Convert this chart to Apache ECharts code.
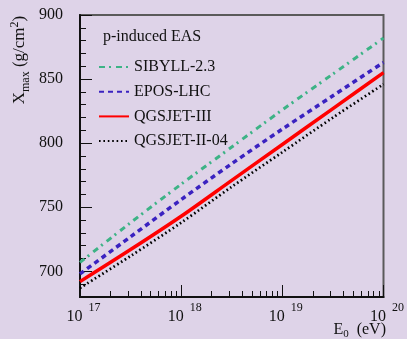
<!DOCTYPE html>
<html>
<head>
<meta charset="utf-8">
<script src="https://cdn.jsdelivr.net/npm/echarts@6/dist/echarts.min.js"></script>
<style>
html,body{margin:0;padding:0;background:#ded3e8;}
#chart{width:407px;height:339px;}
</style>
</head>
<body>
<div id="chart"></div>
<script>
// Data (energies in eV, Xmax in g/cm^2)
const energies = [1e17, 3.162e17, 1e18, 3.162e18, 1e19, 3.162e19, 1e20];
const sibyll = [707, 738, 768, 797, 826, 854, 882];
const epos = [698, 727, 756, 784, 811, 837, 863];
const qgsjet3 = [692, 717, 743, 771, 799, 827, 855];
const qgsjet2 = [687, 712, 738, 766, 793, 820, 846];
const seriesNames = ['SIBYLL-2.3', 'EPOS-LHC', 'QGSJET-III', 'QGSJET-II-04'];
const xMajorTicks = [1e17, 1e18, 1e19, 1e20];
const xMinorTicks = [];
[1e17, 1e18, 1e19].forEach(d => { for (let k = 2; k <= 9; k++) xMinorTicks.push(k * d); });
const yMajorTicks = [700, 750, 800, 850, 900];

const FONT = '"Liberation Serif", "DejaVu Serif", serif';
const chart = echarts.init(document.getElementById('chart'), null, {renderer: 'canvas'});

function pairs(vals) { return energies.map((e, i) => [e, vals[i]]); }

const option = {
  backgroundColor: '#ded3e8',
  animation: false,
  grid: {left: 80, right: 21, top: 15, bottom: 42, show: true, borderColor: '#5a5a5a', borderWidth: 2, backgroundColor: 'transparent'},
  legend: {
    orient: 'vertical', left: 98, top: 59, padding: 0,
    itemWidth: 30, itemHeight: 14, itemGap: 8.7,
    data: seriesNames,
    itemStyle: {color: 'rgba(0,0,0,0)', borderWidth: 0},
    textStyle: {fontFamily: FONT, fontSize: 16, color: '#111', lineHeight: 14}
  },
  xAxis: [{
    type: 'log', logBase: 10, min: 1e17, max: 1e20,
    axisLine: {show: true, lineStyle: {color: '#111', width: 2}},
    axisTick: {show: true, inside: true, length: 12, customValues: xMajorTicks, lineStyle: {color: '#111', width: 1}},
    axisLabel: {
      show: true, margin: 5, customValues: xMajorTicks,
      formatter: v => '{b|10}{s|' + Math.round(Math.log10(v)) + '}',
      rich: {
        b: {fontFamily: FONT, fontSize: 16, color: '#111', lineHeight: 23, verticalAlign: 'bottom', padding: [0, 0, 0, 7]},
        s: {fontFamily: FONT, fontSize: 12, color: '#111', lineHeight: 14, verticalAlign: 'top', padding: [0, 0, 0, 6]}
      }
    },
    splitLine: {show: false}
  }, {
    type: 'log', logBase: 10, min: 1e17, max: 1e20, position: 'bottom',
    axisLine: {show: false},
    axisTick: {show: true, inside: true, length: 6, customValues: xMinorTicks, lineStyle: {color: '#111', width: 1}},
    axisLabel: {show: false},
    splitLine: {show: false}
  }],
  yAxis: [{
    type: 'value', min: 680, max: 900, interval: 10,
    axisLine: {show: true, lineStyle: {color: '#111', width: 2}},
    axisTick: {show: true, inside: true, length: 6, lineStyle: {color: '#111', width: 1}},
    axisLabel: {show: false},
    splitLine: {show: false}
  }, {
    type: 'value', min: 680, max: 900, interval: 10, position: 'left',
    axisLine: {show: false},
    axisTick: {show: true, inside: true, length: 12, customValues: yMajorTicks, lineStyle: {color: '#111', width: 1}},
    axisLabel: {show: true, margin: 17, customValues: yMajorTicks, fontFamily: FONT, fontSize: 16, color: '#111'},
    splitLine: {show: false}
  }],
  series: [
    {name: seriesNames[0], type: 'line', data: pairs(sibyll), showSymbol: false, symbol: 'none', smooth: 0.3,
     lineStyle: {color: '#3db386', width: 3, type: [6, 4, 2, 5]}, itemStyle: {color: '#3db386'}},
    {name: seriesNames[1], type: 'line', data: pairs(epos), showSymbol: false, symbol: 'none', smooth: 0.3,
     lineStyle: {color: '#3a22c0', width: 3.5, type: [5, 4]}, itemStyle: {color: '#3a22c0'}},
    {name: seriesNames[2], type: 'line', data: pairs(qgsjet3), showSymbol: false, symbol: 'none', smooth: 0.3,
     lineStyle: {color: '#ff0000', width: 3.5, type: 'solid'}, itemStyle: {color: '#ff0000'}},
    {name: seriesNames[3], type: 'line', data: pairs(qgsjet2), showSymbol: false, symbol: 'none', smooth: 0.3,
     lineStyle: {color: '#000000', width: 2.7, type: [1.6, 2.8]}, itemStyle: {color: '#000000'}}
  ],
  graphic: [
    {type: 'text', left: 103, top: 29, style: {text: 'p-induced EAS', font: '16px ' + FONT, fill: '#111'}},
    {type: 'text', x: 20, y: 60, rotation: Math.PI / 2,
     style: {
       text: '{m|X}{sub|max}{m| (g/cm}{sup|2}{m|)}', align: 'center', verticalAlign: 'middle',
       rich: {
         m: {fontFamily: FONT, fontSize: 17, fill: '#111', lineHeight: 23, verticalAlign: 'middle'},
         sub: {fontFamily: FONT, fontSize: 12, fill: '#111', lineHeight: 12, verticalAlign: 'bottom'},
         sup: {fontFamily: FONT, fontSize: 12, fill: '#111', lineHeight: 12, verticalAlign: 'top'}
       }
     }},
    {type: 'text', x: 386, y: 330,
     style: {
       text: '{m|E}{sub|0}{m|  (eV)}', align: 'right', verticalAlign: 'middle',
       rich: {
         m: {fontFamily: FONT, fontSize: 16, fill: '#111', lineHeight: 20, verticalAlign: 'middle'},
         sub: {fontFamily: FONT, fontSize: 11, fill: '#111', lineHeight: 11, verticalAlign: 'bottom'}
       }
     }}
  ]
};
chart.setOption(option);
</script>
</body>
</html>
